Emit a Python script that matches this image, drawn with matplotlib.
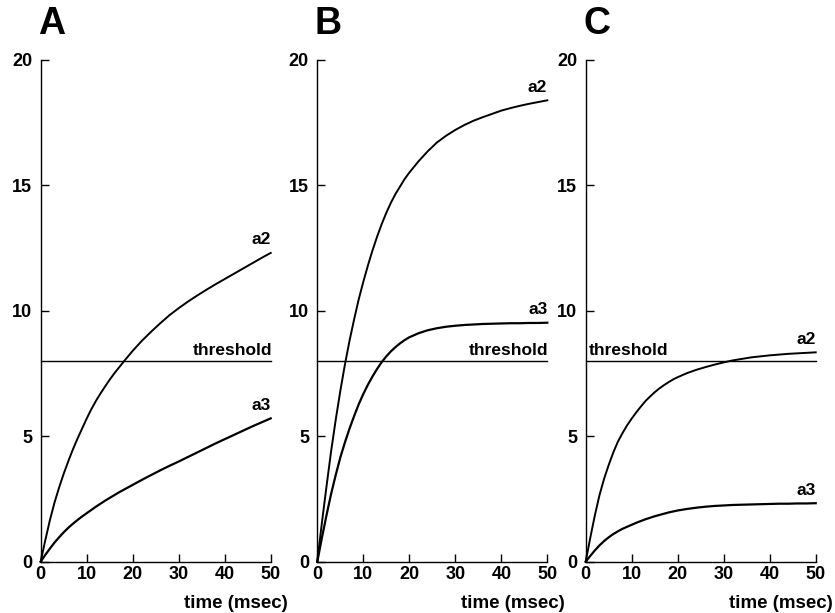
import matplotlib
matplotlib.use("Agg")
import matplotlib.pyplot as plt

plt.rcParams['font.family'] = ['Liberation Sans', 'DejaVu Sans']
plt.rcParams['font.weight'] = 'bold'

# time points (msec)
t = [0, 1, 2, 3, 4, 5, 6, 7, 8, 9, 10, 11, 12, 13, 14, 15, 16, 17, 18, 19, 20,
     22, 24, 26, 28, 30, 32, 34, 36, 38, 40, 42, 44, 46, 48, 50]

# panel A
a2_A = [0, 0.85, 1.65, 2.35, 2.95, 3.5, 4.0, 4.47, 4.9, 5.3, 5.7, 6.07, 6.4, 6.7, 6.98, 7.25, 7.5, 7.73, 7.96, 8.18, 8.4,
        8.8, 9.16, 9.5, 9.82, 10.1, 10.36, 10.6, 10.83, 11.05, 11.26, 11.47, 11.68, 11.89, 12.1, 12.3]
a3_A = [0, 0.27, 0.52, 0.76, 0.97, 1.17, 1.35, 1.51, 1.66, 1.8, 1.93, 2.06, 2.19, 2.31, 2.43, 2.54, 2.65, 2.76, 2.86, 2.96, 3.06,
        3.26, 3.45, 3.64, 3.82, 3.99, 4.17, 4.35, 4.53, 4.71, 4.88, 5.05, 5.22, 5.39, 5.55, 5.71]

# panel B
a2_B = [0, 1.55, 3.0, 4.4, 5.65, 6.8, 7.85, 8.8, 9.65, 10.45, 11.15, 11.8, 12.4, 12.95, 13.45, 13.9, 14.3, 14.65, 14.95, 15.25, 15.5,
        15.95, 16.35, 16.7, 16.97, 17.2, 17.4, 17.57, 17.71, 17.84, 17.97, 18.07, 18.16, 18.24, 18.31, 18.38]
a3_B = [0, 0.95, 1.85, 2.7, 3.45, 4.15, 4.75, 5.3, 5.8, 6.27, 6.68, 7.05, 7.38, 7.68, 7.95, 8.18, 8.38, 8.55, 8.7, 8.83, 8.94,
        9.1, 9.22, 9.3, 9.36, 9.4, 9.43, 9.45, 9.47, 9.48, 9.49, 9.5, 9.5, 9.51, 9.51, 9.52]

# panel C
a2_C = [0, 0.95, 1.85, 2.65, 3.3, 3.85, 4.35, 4.78, 5.12, 5.43, 5.7, 5.95, 6.18, 6.4, 6.58, 6.75, 6.9, 7.03, 7.15, 7.26, 7.35,
        7.51, 7.64, 7.75, 7.85, 7.94, 8.02, 8.08, 8.14, 8.18, 8.22, 8.25, 8.28, 8.3, 8.32, 8.34]
a3_C = [0, 0.23, 0.45, 0.65, 0.82, 0.97, 1.1, 1.21, 1.31, 1.39, 1.47, 1.55, 1.62, 1.69, 1.75, 1.81, 1.86, 1.91, 1.96, 2.0, 2.04,
        2.1, 2.15, 2.19, 2.22, 2.24, 2.26, 2.27, 2.28, 2.29, 2.3, 2.31, 2.31, 2.32, 2.32, 2.33]

threshold = 8
panels = ["A", "B", "C"]
a2_all = [a2_A, a2_B, a2_C]
a3_all = [a3_A, a3_B, a3_C]

fig = plt.figure(figsize=(8.35, 6.13), dpi=100)
lefts = [0.0487, 0.380, 0.7014]
bottom, width, height = 0.0837, 0.2755, 0.819

for i, name in enumerate(panels):
    ax = fig.add_axes([lefts[i], bottom, width, height])
    a2 = a2_all[i]
    a3 = a3_all[i]

    ax.plot(t, a2, color="black", lw=1.4, clip_on=False)
    ax.plot(t, a3, color="black", lw=1.6, clip_on=False)
    ax.plot([0, 50], [threshold, threshold], color="black", lw=1.0, clip_on=False)

    ax.set_xlim(0, 50)
    ax.set_ylim(0, 20)
    ax.set_xticks([0, 10, 20, 30, 40, 50])
    ax.set_yticks([0, 5, 10, 15, 20])
    ax.tick_params(direction="in", length=6, width=1, labelsize=13, color="black")
    ax.tick_params(axis="y", pad=6)
    ax.tick_params(axis="x", pad=3)
    for lab in ax.get_xticklabels() + ax.get_yticklabels():
        lab.set_fontweight("bold")
    ax.spines["top"].set_visible(False)
    ax.spines["right"].set_visible(False)
    ax.spines["left"].set_linewidth(1.0)
    ax.spines["bottom"].set_linewidth(1.0)

    # curve labels
    ax.annotate("a2", xy=(50, a2[-1]), xytext=(0, 4), textcoords="offset points",
                ha="right", va="bottom", fontsize=12.5, fontweight="bold")
    ax.annotate("a3", xy=(50, a3[-1]), xytext=(0, 4), textcoords="offset points",
                ha="right", va="bottom", fontsize=12.5, fontweight="bold")
    if name == "C":
        ax.annotate("threshold", xy=(0, threshold), xytext=(2, 2), textcoords="offset points",
                    ha="left", va="bottom", fontsize=12.5, fontweight="bold")
    else:
        ax.annotate("threshold", xy=(50, threshold), xytext=(1, 2), textcoords="offset points",
                    ha="right", va="bottom", fontsize=12.5, fontweight="bold")

    ax.annotate("time (msec)", xy=(1, 0), xycoords="axes fraction", xytext=(12.5, -30),
                textcoords="offset points", ha="right", va="center",
                fontsize=13.5, fontweight="bold")

    fig.text(lefts[i] - 0.003, 0.944, name, ha="left", va="baseline",
             fontsize=27, fontweight="bold")

fig.savefig("out.png", dpi=100)
